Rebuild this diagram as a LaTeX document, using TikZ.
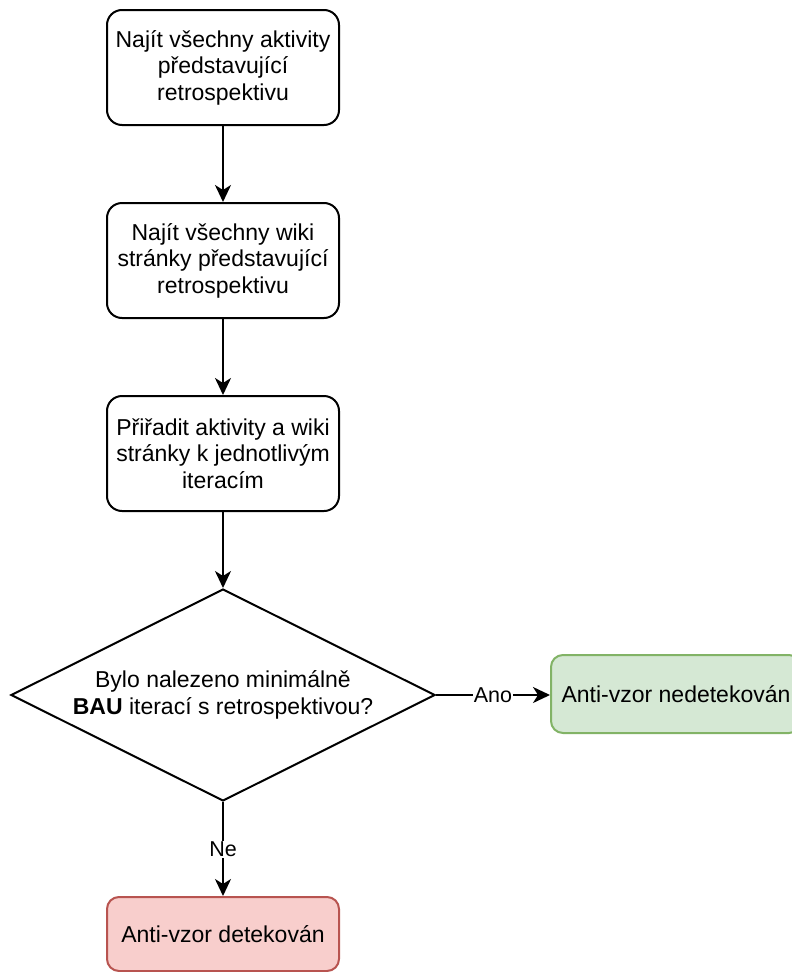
\documentclass[tikz,border=0pt]{standalone}
\usepackage{fontspec}
\setmainfont{Liberation Sans}
\usepackage{xcolor}
\usepackage{tikz}
\usetikzlibrary{shapes.geometric, arrows.meta, positioning}

\definecolor{okfill}{HTML}{D5E8D4}
\definecolor{okdraw}{HTML}{82B366}
\definecolor{badfill}{HTML}{F8CECC}
\definecolor{baddraw}{HTML}{B85450}

\begin{document}
\begin{tikzpicture}[x=1pt, y=-1pt,
        stepbox/.style={rectangle, rounded corners=15pt, draw=black, fill=white, line width=2pt,
        minimum width=232pt, minimum height=115pt, align=center, inner sep=4pt,
        font=\fontsize{23}{26.5}\selectfont},
        okbox/.style={stepbox, draw=okdraw, fill=okfill, minimum width=250pt, minimum height=78pt, rounded corners=12pt},
        badbox/.style={stepbox, draw=baddraw, fill=badfill, minimum width=232pt, minimum height=74pt, rounded corners=12pt},
        decide/.style={diamond, aspect=2, draw=black, fill=white, line width=2pt, inner sep=0pt,
        minimum width=424pt, minimum height=212pt, align=center,
        font=\fontsize{23}{26.5}\selectfont},
        flow/.style={-{Stealth[length=17pt, width=16pt, inset=5pt]}, line width=2pt},
        lbl/.style={fill=white, inner sep=1pt, font=\fontsize{21.5}{24}\selectfont}
    ]
    \clip (0,0) rectangle (792,972);

    % Main steps (vertical)
    \node[stepbox] (act)   at (223,67.5)  {Najít všechny aktivity\\představující\\retrospektivu};
    \node[stepbox] (wiki)  at (223,260.5) {Najít všechny wiki\\stránky představující\\retrospektivu};
    \node[stepbox] (iter)  at (223,453.5) {Přiřadit aktivity a wiki\\stránky k jednotlivým\\iteracím};

    % Decision
    \node[decide]  (check) at (223,695)   {Bylo nalezeno minimálně\\\textbf{BAU} iterací s retrospektivou?};

    % Results
    \node[okbox]   (nodet) at (676,694)   {Anti-vzor nedetekován};
    \node[badbox]  (det)   at (223,934)   {Anti-vzor detekován};

    % Arrows
    \draw[flow] (act)  -- (wiki);
    \draw[flow] (wiki) -- (iter);
    \draw[flow] (iter) -- (check);
    \draw[flow] (check.east)  -- (nodet.west |- check.east) node[midway, lbl] {Ano};
    \draw[flow] (check.south) -- (det.north) node[midway, lbl] {Ne};
\end{tikzpicture}
\end{document}
